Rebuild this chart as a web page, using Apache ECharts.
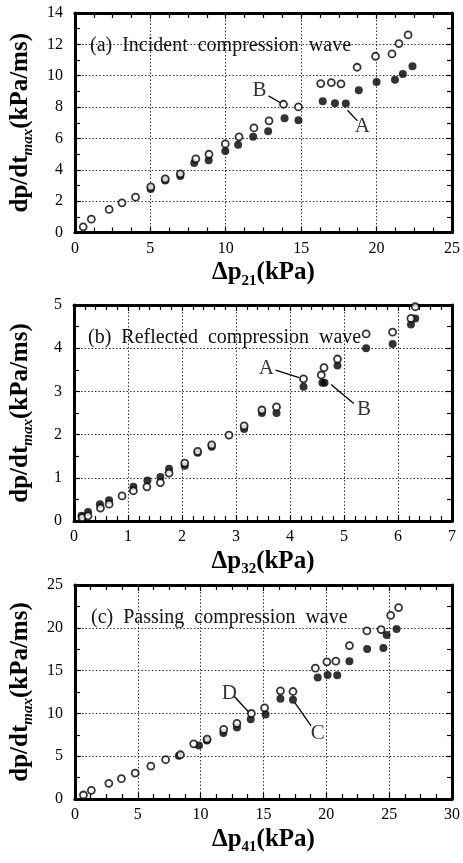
<!DOCTYPE html>
<html><head><meta charset="utf-8">
<script src="https://cdn.jsdelivr.net/npm/echarts@6/dist/echarts.min.js"></script>
<style>html,body{margin:0;padding:0;background:#fff}#c{width:463px;height:863px}</style>
</head><body><div id="c"></div>
<script>
// ---- data: panel (a) incident compression wave ----
const aOpen = [[0.55,0.36],[1.09,0.85],[2.27,1.47],[3.12,1.89],[4.02,2.25],[5.03,2.91],[5.99,3.42],[6.99,3.74],[8.02,4.70],[8.89,4.99],[9.97,5.65],[10.88,6.10],[11.87,6.67],[12.87,7.12],[13.83,8.18],[14.82,8.01],[16.30,9.50],[17.00,9.56],[17.64,9.48],[18.71,10.54],[19.93,11.24],[21.02,11.39],[21.48,12.05],[22.09,12.60]];
const aFilled = [[5.03,2.78],[5.99,3.31],[6.99,3.61],[7.91,4.44],[8.87,4.61],[9.97,5.20],[10.82,5.59],[11.82,6.10],[12.81,6.46],[13.90,7.29],[14.82,7.16],[16.43,8.37],[17.24,8.24],[17.96,8.22],[18.82,9.07],[20.00,9.60],[21.22,9.75],[21.74,10.11],[22.38,10.60]];
// ---- data: panel (b) reflected compression wave ----
const bOpen = [[0.15,0.08],[0.26,0.12],[0.49,0.30],[0.65,0.39],[0.89,0.58],[1.10,0.70],[1.35,0.79],[1.60,0.89],[1.76,1.11],[2.05,1.34],[2.29,1.61],[2.55,1.76],[2.87,1.99],[3.15,2.20],[3.48,2.57],[3.75,2.64],[4.25,3.29],[4.58,3.38],[4.63,3.55],[4.88,3.75],[5.41,4.33],[5.90,4.37],[6.24,4.69],[6.32,4.96]];
const bFilled = [[0.14,0.12],[0.26,0.21],[0.48,0.39],[0.65,0.48],[1.10,0.79],[1.36,0.94],[1.60,1.02],[1.76,1.21],[2.05,1.28],[2.29,1.58],[2.55,1.72],[3.15,2.13],[3.48,2.50],[3.75,2.50],[4.25,3.11],[4.60,3.20],[4.64,3.20],[4.88,3.60],[5.41,4.00],[5.90,4.10],[6.24,4.55],[6.32,4.69]];
// ---- data: panel (c) passing compression wave ----
const cOpen = [[0.68,0.47],[1.31,1.01],[2.70,1.83],[3.70,2.37],[4.80,3.03],[6.04,3.85],[7.22,4.59],[8.40,5.17],[9.45,6.45],[10.52,7.00],[11.84,8.13],[12.89,8.83],[14.04,9.99],[15.09,10.65],[16.35,12.64],[17.35,12.56],[19.13,15.28],[20.05,16.02],[20.76,16.10],[21.84,17.92],[23.23,19.63],[24.36,19.79],[25.12,21.46],[25.75,22.36]];
const cFilled = [[8.27,5.05],[9.87,6.26],[10.50,6.84],[11.81,7.70],[12.89,8.36],[13.99,9.33],[15.17,9.88],[16.35,11.70],[17.35,11.59],[19.32,14.19],[20.10,14.50],[20.87,14.46],[21.84,16.10],[23.25,17.53],[24.54,17.65],[24.80,19.17],[25.59,19.87]];
// ---- annotations: [label position], [leader start, leader end] ----
const aLabels = [{t:'B', p:[12.24,9.07], line:[[12.83,8.71],[13.66,8.26]]},{t:'A', p:[19.06,6.73], line:[[18.07,7.80],[18.73,7.12]]}];
const bLabels = [{t:'A', p:[3.56,3.53], line:[[3.73,3.49],[4.17,3.32]]},{t:'B', p:[5.37,2.57], line:[[4.76,3.16],[5.18,2.72]]}];
const cLabels = [{t:'D', p:[12.28,12.36], line:[[12.68,11.98],[13.86,10.11]]},{t:'C', p:[19.32,7.70], line:[[17.48,11.28],[18.79,8.55]]}];
// ---- axes ----
const xMax = [25, 7, 30], xInt = [5, 1, 5], xMinor = [4, 5, 4];
const yMax = [14, 5, 25], yInt = [2, 1, 5], yMinor = [2, 2, 2];
const xNames = ['21', '32', '41'];
const titles = ['(a)  Incident  compression  wave', '(b)  Reflected  compression  wave', '(c)  Passing  compression  wave'];

const FONT = '"Liberation Serif","DejaVu Serif","Times New Roman",serif';
const grids = [
  {left:73, top:13, width:381, height:219.5},
  {left:71, top:305, width:381, height:216},
  {left:74, top:585, width:381, height:214}
];
const richName = {
  m:{fontFamily:FONT, fontSize:25, fontWeight:'bold', color:'#000'},
  s:{fontFamily:FONT, fontSize:15, fontWeight:'bold', color:'#000', padding:[16,0,0,0]},
  si:{fontFamily:FONT, fontSize:15, fontWeight:'bold', fontStyle:'italic', color:'#000', padding:[16,0,0,0]}
};
const xAxes = [], yAxes = [], series = [], title = [];
for (let i = 0; i < 3; i++) {
  const common = (max, interval, minor, showLabel) => ({
    type:'value', gridIndex:i, min:0, max:max, interval:interval,
    axisLine:{show:true, onZero:false, lineStyle:{color:'#000', width:3}},
    axisTick:{show:true, inside:true, length:6, lineStyle:{color:'#000', width:1.2}},
    minorTick:{show:true, splitNumber:minor, length:5, lineStyle:{color:'#000', width:1.2}},
    axisLabel:{show:showLabel, color:'#000', fontFamily:FONT, fontSize:16},
    splitLine:{show:false}
  });
  const xb = common(xMax[i], xInt[i], xMinor[i], true);
  xb.position = 'bottom';
  xb.axisLabel.margin = 8;
  xb.splitLine = {show:true, lineStyle:{color:'#333', type:[1.5,2], width:1}};
  xb.name = '{m|Δp}{s|' + xNames[i] + '}{m|(kPa)}';
  xb.nameLocation = 'middle';
  xb.nameGap = 25;
  xb.nameTextStyle = {rich:richName};
  const xt = common(xMax[i], xInt[i], xMinor[i], false);
  xt.position = 'top';
  xAxes.push(xb, xt);
  const yl = common(yMax[i], yInt[i], yMinor[i], true);
  yl.position = 'left';
  yl.axisLabel.margin = 12;
  yl.splitLine = {show:true, lineStyle:{color:'#333', type:[1.5,2], width:1}};
  yl.name = '{m|dp/dt}{si|max}{m|(kPa/ms)}';
  yl.nameLocation = 'middle';
  yl.nameGap = 38;
  yl.nameTextStyle = {rich:richName};
  const yr = common(yMax[i], yInt[i], yMinor[i], false);
  yr.position = 'right';
  yAxes.push(yl, yr);
  title.push({text:titles[i], left:grids[i].left + 12, top:grids[i].top + 18,
    textStyle:{fontFamily:FONT, fontSize:20, fontWeight:'normal', color:'#111'}});
}
const panels = [[aOpen,aFilled,aLabels],[bOpen,bFilled,bLabels],[cOpen,cFilled,cLabels]];
panels.forEach(([op, fi, labs], i) => {
  const ax = {xAxisIndex:2*i, yAxisIndex:2*i};
  labs.forEach(l => {
    series.push(Object.assign({type:'line', data:l.line, showSymbol:false, symbol:'none', silent:true,
      lineStyle:{color:'#000', width:1.3}, z:3}, ax));
    series.push(Object.assign({type:'scatter', data:[l.p], symbolSize:1, silent:true,
      itemStyle:{color:'rgba(0,0,0,0)'},
      label:{show:true, position:'inside', formatter:l.t, fontFamily:FONT, fontSize:21, color:'#000'}, z:3}, ax));
  });
  series.push(Object.assign({type:'scatter', data:fi, symbol:'circle', symbolSize:8,
    itemStyle:{color:'#000'}, z:4}, ax));
  series.push(Object.assign({type:'scatter', data:op, symbol:'circle', symbolSize:7,
    itemStyle:{color:'#fff', borderColor:'#000', borderWidth:1.8}, z:5}, ax));
});
const chart = echarts.init(document.getElementById('c'), null, {renderer:'canvas'});
chart.setOption({backgroundColor:'#fff', animation:false, title:title, grid:grids, xAxis:xAxes, yAxis:yAxes, series:series});
</script></body></html>
